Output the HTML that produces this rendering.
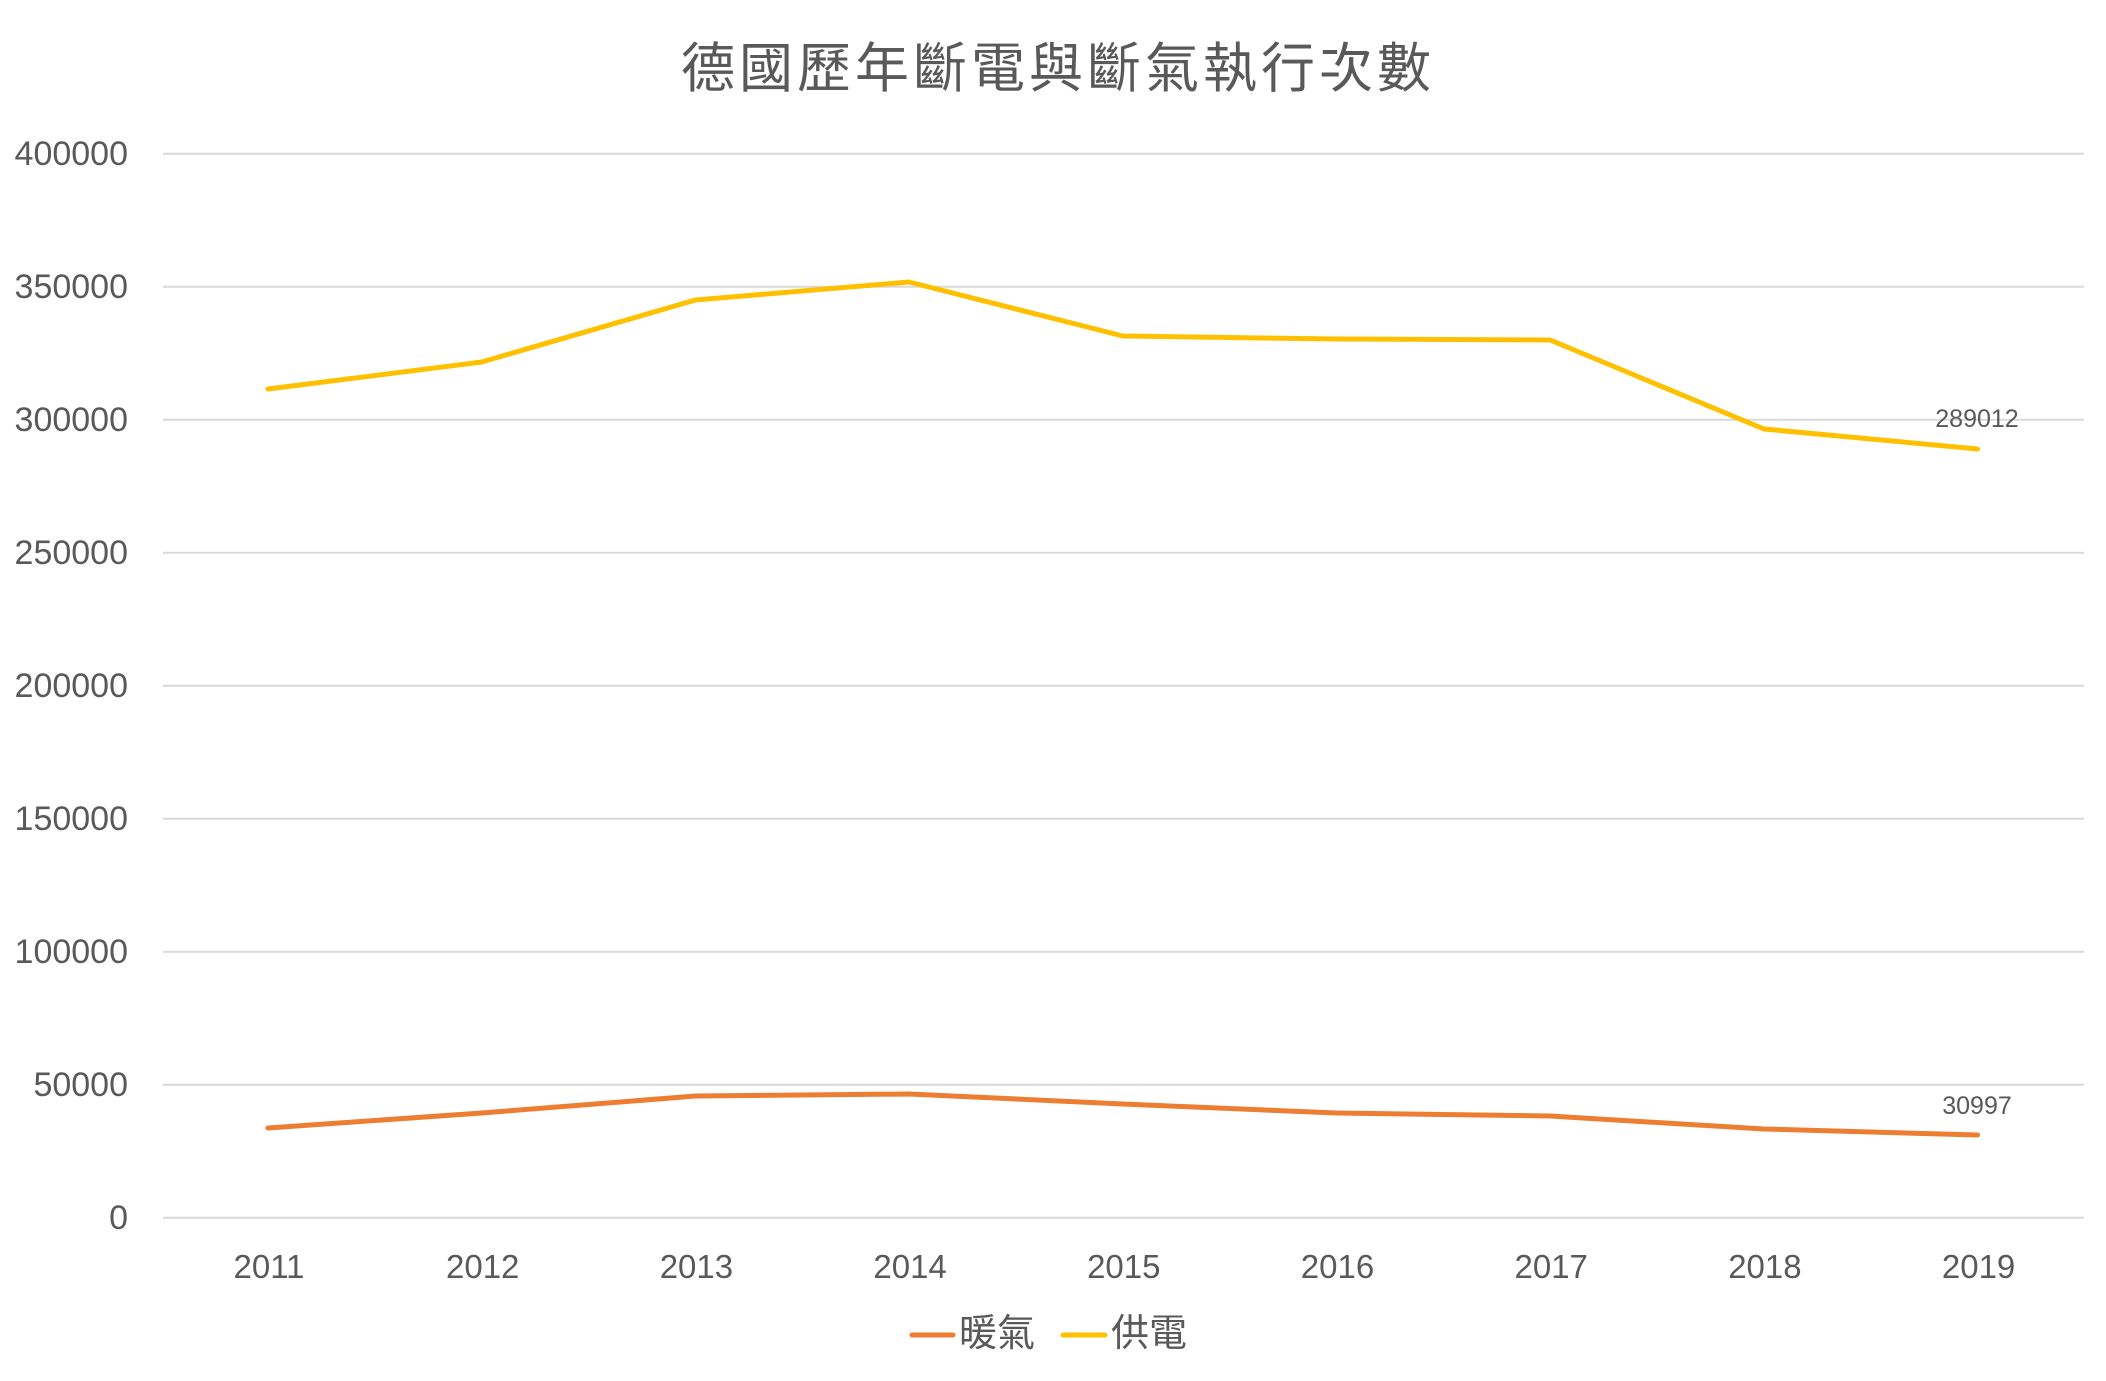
<!DOCTYPE html>
<html><head><meta charset="utf-8"><style>
html,body{margin:0;padding:0;background:#fff;}
svg{display:block;}
text{font-family:"Liberation Sans","Noto Sans CJK TC",sans-serif;fill:#595959;}
</style></head><body>
<svg width="2106" height="1381" viewBox="0 0 2106 1381" xmlns="http://www.w3.org/2000/svg">
<rect width="2106" height="1381" fill="#fff"/>
<text x="1058" y="87" font-size="54" text-anchor="middle" letter-spacing="4">德國歷年斷電與斷氣執行次數</text>
<g stroke="#d9d9d9" stroke-width="2">
<line x1="163" x2="2084" y1="153.7" y2="153.7"/>
<line x1="163" x2="2084" y1="286.7" y2="286.7"/>
<line x1="163" x2="2084" y1="419.7" y2="419.7"/>
<line x1="163" x2="2084" y1="552.7" y2="552.7"/>
<line x1="163" x2="2084" y1="685.7" y2="685.7"/>
<line x1="163" x2="2084" y1="818.7" y2="818.7"/>
<line x1="163" x2="2084" y1="951.7" y2="951.7"/>
<line x1="163" x2="2084" y1="1084.7" y2="1084.7"/>
<line x1="163" x2="2084" y1="1217.7" y2="1217.7"/>
</g>
<g font-size="34" text-anchor="end">
<text x="128" y="165">400000</text>
<text x="128" y="298">350000</text>
<text x="128" y="431">300000</text>
<text x="128" y="564">250000</text>
<text x="128" y="697">200000</text>
<text x="128" y="830">150000</text>
<text x="128" y="963">100000</text>
<text x="128" y="1096">50000</text>
<text x="128" y="1229">0</text>
</g>
<g font-size="33" text-anchor="middle">
<text x="269" y="1278">2011</text>
<text x="482.7" y="1278">2012</text>
<text x="696.4" y="1278">2013</text>
<text x="910.1" y="1278">2014</text>
<text x="1123.8" y="1278">2015</text>
<text x="1337.5" y="1278">2016</text>
<text x="1551.2" y="1278">2017</text>
<text x="1764.9" y="1278">2018</text>
<text x="1978.6" y="1278">2019</text>
</g>
<polyline fill="none" stroke="#FFC000" stroke-width="5" stroke-linejoin="round" stroke-linecap="round"
points="268,389 481.7,362 695.4,300 909.1,282 1122.8,336 1336.5,339 1550.2,340 1763.9,429 1977.6,449"/>
<polyline fill="none" stroke="#ED7D31" stroke-width="5" stroke-linejoin="round" stroke-linecap="round"
points="268,1128 481.7,1113 695.4,1096 909.1,1094 1122.8,1104 1336.5,1113 1550.2,1116 1763.9,1129 1977.6,1135"/>
<text x="1977" y="427" font-size="25" text-anchor="middle" fill="#404040">289012</text>
<text x="1977" y="1114" font-size="25" text-anchor="middle" fill="#404040">30997</text>
<line x1="912" x2="953" y1="1335" y2="1335" stroke="#ED7D31" stroke-width="5" stroke-linecap="round"/>
<text x="959" y="1346" font-size="38">暖氣</text>
<line x1="1063" x2="1105" y1="1335" y2="1335" stroke="#FFC000" stroke-width="5" stroke-linecap="round"/>
<text x="1111" y="1346" font-size="38">供電</text>
</svg>
</body></html>
